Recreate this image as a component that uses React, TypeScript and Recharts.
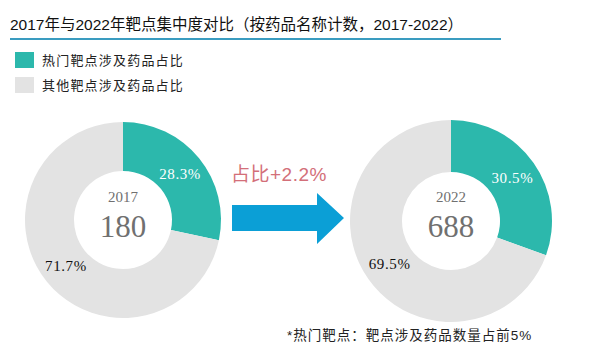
import React from 'react';
import { PieChart, Pie, Cell } from 'recharts';

// categories and values
const categories = ['热门靶点涉及药品占比', '其他靶点涉及药品占比'];
const years = ['2017', '2022'];
const totals = [180, 688];
const share2017 = [28.3, 71.7];
const share2022 = [30.5, 69.5];
const changeLabel = '占比+2.2%';

const colors = ['#2cb8ac', '#e3e3e3'];
const labelColors = ['#ffffff', '#111111'];

const cjk = '"Liberation Sans", "Noto Sans CJK SC", sans-serif';
const serif = '"Liberation Serif", "DejaVu Serif", serif';

const toRows = (vals: number[]) => categories.map((name, i) => ({ name, value: vals[i] }));

const RAD = Math.PI / 180;

// label in the middle of the ring, white on teal, black on grey
const renderLabel = (props: any) => {
  const { cx, cy, midAngle, innerRadius, outerRadius, index, value } = props;
  const r = (innerRadius + outerRadius) / 2;
  const x = cx + r * Math.cos(-midAngle * RAD);
  const y = cy + r * Math.sin(-midAngle * RAD);
  return (
    <text
      x={x}
      y={y}
      fill={labelColors[index]}
      textAnchor="middle"
      dominantBaseline="central"
      fontFamily={serif}
      fontSize={15}
      letterSpacing={0.6}
    >
      {value.toFixed(1)}%
    </text>
  );
};

const CenterText = ({ x, year, total }: { x: number; year: string; total: number }) => (
  <div
    style={{
      position: 'absolute',
      left: x - 50,
      top: 190,
      width: 100,
      textAlign: 'center',
      fontFamily: serif,
      color: '#707070',
      lineHeight: 1,
    }}
  >
    <div style={{ fontSize: 15 }}>{year}</div>
    <div style={{ fontSize: 31, marginTop: 6 }}>{total}</div>
  </div>
);

export default function App() {
  return (
    <div
      style={{
        position: 'absolute',
        left: 0,
        top: 0,
        width: 589,
        height: 355,
        background: '#fff',
        overflow: 'hidden',
      }}
    >
      {/* title + rule */}
      <div
        style={{
          position: 'absolute',
          left: 10,
          top: 15,
          fontFamily: cjk,
          fontSize: 15.5,
          color: '#111',
          whiteSpace: 'nowrap',
          lineHeight: '20px',
        }}
      >
        2017年与2022年靶点集中度对比（按药品名称计数，2017-2022）
      </div>
      <div style={{ position: 'absolute', left: 10, top: 38, width: 491, height: 1.5, background: '#3a9cc0' }} />

      {/* legend */}
      {categories.map((c, i) => (
        <div key={c} style={{ position: 'absolute', left: 15, top: 50 + i * 25, display: 'flex', alignItems: 'center' }}>
          <div style={{ width: 19, height: 16, background: colors[i] }} />
          <span
            style={{
              marginLeft: 8,
              fontFamily: cjk,
              fontSize: 13,
              letterSpacing: 1.2,
              color: '#222',
              whiteSpace: 'nowrap',
            }}
          >
            {c}
          </span>
        </div>
      ))}

      <PieChart
        width={589}
        height={355}
        margin={{ top: 0, right: 0, bottom: 0, left: 0 }}
        style={{ position: 'absolute', left: 0, top: 0 }}
      >
        <Pie
          data={toRows(share2017)}
          dataKey="value"
          cx={123}
          cy={220}
          innerRadius={49}
          outerRadius={98}
          startAngle={90}
          endAngle={-270}
          stroke="none"
          label={renderLabel}
          labelLine={false}
          isAnimationActive={false}
        >
          {share2017.map((_, i) => (
            <Cell key={i} fill={colors[i]} />
          ))}
        </Pie>
        <Pie
          data={toRows(share2022)}
          dataKey="value"
          cx={451}
          cy={221}
          innerRadius={49}
          outerRadius={101}
          startAngle={90}
          endAngle={-270}
          stroke="none"
          label={renderLabel}
          labelLine={false}
          isAnimationActive={false}
        >
          {share2022.map((_, i) => (
            <Cell key={i} fill={colors[i]} />
          ))}
        </Pie>
      </PieChart>

      <CenterText x={123} year={years[0]} total={totals[0]} />
      <CenterText x={451} year={years[1]} total={totals[1]} />

      {/* change note + arrow */}
      <div
        style={{
          position: 'absolute',
          left: 231,
          top: 159,
          fontFamily: cjk,
          fontSize: 19,
          color: '#d36f79',
          whiteSpace: 'nowrap',
          letterSpacing: 0.5,
        }}
      >
        {changeLabel}
      </div>
      <svg width={589} height={355} style={{ position: 'absolute', left: 0, top: 0 }}>
        <polygon points="232,205 317,205 317,193 344,218 317,244 317,231 232,231" fill="#0b9fd6" />
      </svg>

      {/* footnote */}
      <div
        style={{
          position: 'absolute',
          left: 287,
          top: 324,
          fontFamily: cjk,
          fontSize: 13.5,
          letterSpacing: 1,
          color: '#222',
          whiteSpace: 'nowrap',
        }}
      >
        *热门靶点：靶点涉及药品数量占前5%
      </div>
    </div>
  );
}
